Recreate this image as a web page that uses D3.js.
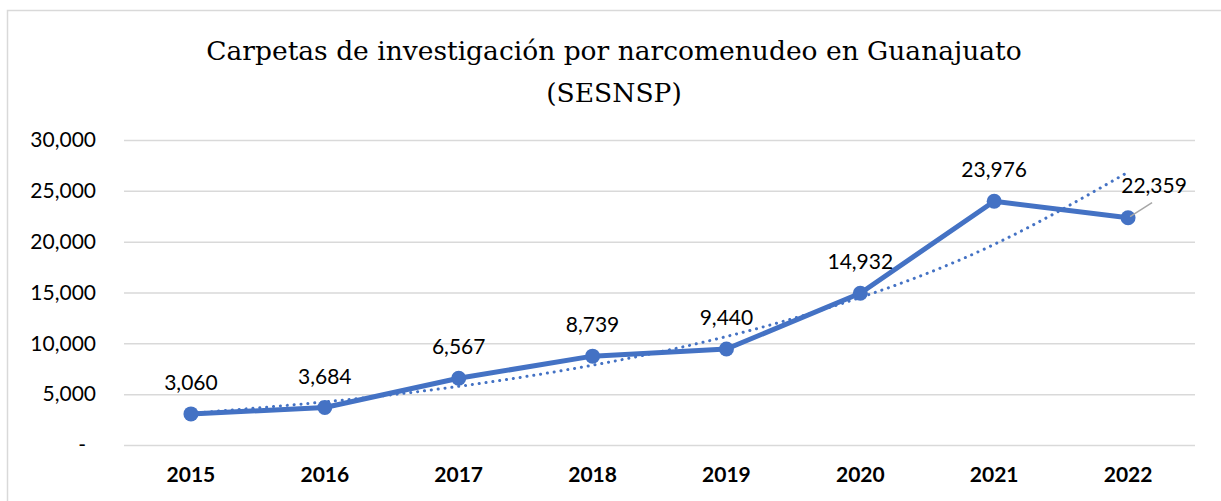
<!DOCTYPE html>
<html>
<head>
<meta charset="utf-8">
<script src="https://cdn.jsdelivr.net/npm/d3@7"></script>
<style>
  body { margin: 0; background: #fff; }
  svg { display: block; }
  .tick text { font-family: Lato, "Noto Sans", sans-serif; }
</style>
</head>
<body>
<div id="chart"></div>
<script>
// values
var years = ['2015','2016','2017','2018','2019','2020','2021','2022'];
var carpetas = [3060, 3684, 6567, 8739, 9440, 14932, 23976, 22359];
// dotted trend line, read at each year
var trend = [3120, 4240, 5770, 7850, 10670, 14510, 19730, 26840];
var yTicks = [0, 5000, 10000, 15000, 20000, 25000, 30000];
var titleLines = ['Carpetas de investigación por narcomenudeo en Guanajuato', '(SESNSP)'];

var W = 1221, H = 501;
var m = {t:140, r:26, b:56, l:124};
var blue = '#4472C4';

var svg = d3.select('#chart').append('svg')
    .attr('width', W).attr('height', H);

// chart frame
svg.append('rect')
    .attr('x', 7.5).attr('y', 10.5)
    .attr('width', W + 20).attr('height', H + 20)
    .attr('fill', 'none').attr('stroke', '#d9d9d9').attr('stroke-width', 1.5);

// title
svg.append('g').selectAll('text')
    .data(titleLines)
    .enter().append('text')
    .attr('x', 614).attr('y', function(d, i){ return 60 + i * 42; })
    .attr('text-anchor', 'middle')
    .style('font-family', '"DejaVu Serif", serif')
    .style('font-size', '26.5px')
    .style('fill', '#000')
    .text(function(d){ return d; });

//Scales
var scaleX = d3.scaleBand().domain(years).range([m.l, W - m.r]);
var scaleY = d3.scaleLinear().domain([0, 30000]).range([H - m.b, m.t]);
var cx = function(i){ return scaleX(years[i]) + scaleX.bandwidth() / 2; };

//Gridlines + y axis labels
var axisY = d3.axisLeft(scaleY)
    .tickValues(yTicks)
    .tickSize(-(W - m.r - m.l))
    .tickPadding(28)
    .tickFormat(function(d){ return d === 0 ? '-' : d3.format(',')(d); });
var gy = svg.append('g').attr('transform', 'translate(' + m.l + ',0)').call(axisY);
gy.select('.domain').remove();
gy.selectAll('.tick line').attr('stroke', '#d9d9d9').attr('stroke-width', 1.5);
gy.selectAll('.tick text')
    .style('font-size', '21px').attr('fill', '#000')
    .attr('dx', function(d){ return d === 0 ? -10 : 0; });

//x axis labels
var axisX = d3.axisBottom(scaleX).tickSize(0).tickPadding(22);
var gx = svg.append('g').attr('transform', 'translate(0,' + (H - m.b) + ')').call(axisX);
gx.select('.domain').remove();
gx.selectAll('.tick text')
    .style('font-size', '21px').style('font-weight', 'bold').attr('fill', '#000');

//Main line
var line = d3.line()
    .x(function(d, i){ return cx(i); })
    .y(function(d){ return scaleY(d); });
svg.append('path')
    .datum(carpetas)
    .attr('d', line)
    .attr('fill', 'none').attr('stroke', blue)
    .attr('stroke-width', 5).attr('stroke-linejoin', 'round');

//Trend line (dotted)
var trendLine = d3.line()
    .x(function(d, i){ return cx(i); })
    .y(function(d){ return scaleY(d); })
    .curve(d3.curveNatural);
svg.append('path')
    .datum(trend)
    .attr('d', trendLine)
    .attr('fill', 'none').attr('stroke', blue)
    .attr('stroke-width', 3)
    .attr('stroke-linecap', 'round')
    .attr('stroke-dasharray', '0.1 6.8');

//Markers
svg.append('g').selectAll('circle')
    .data(carpetas)
    .enter().append('circle')
    .attr('cx', function(d, i){ return cx(i); })
    .attr('cy', function(d){ return scaleY(d); })
    .attr('r', 7.5)
    .attr('fill', blue);

//Leader line for the last label
var last = carpetas.length - 1;
svg.append('line')
    .attr('x1', cx(last) + 2).attr('y1', scaleY(carpetas[last]) - 1)
    .attr('x2', cx(last) + 24).attr('y2', scaleY(carpetas[last]) - 15)
    .attr('stroke', '#a6a6a6').attr('stroke-width', 1.5);

//Data labels
svg.append('g').selectAll('text')
    .data(carpetas)
    .enter().append('text')
    .attr('x', function(d, i){ return i === last ? cx(i) + 26 : cx(i); })
    .attr('y', function(d, i){ return scaleY(d) - (i === last ? 25 : 24); })
    .attr('text-anchor', 'middle')
    .style('font-family', 'Lato, "Noto Sans", sans-serif')
    .style('font-size', '21px')
    .style('fill', '#000')
    .text(function(d){ return d3.format(',')(d); });
</script>
</body>
</html>
